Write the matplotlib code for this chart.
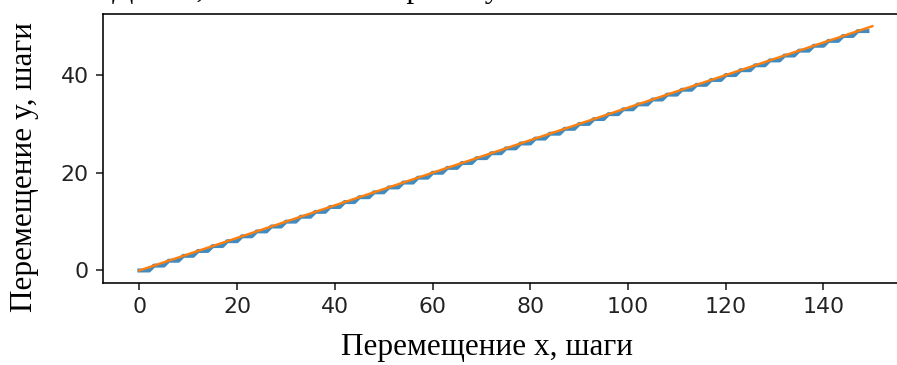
import matplotlib
matplotlib.use("Agg")
import matplotlib.pyplot as plt

# Discrete (stepwise) path, one point per x step
step_x = [
    0, 1, 2, 3, 4, 5, 6, 7, 8, 9, 10, 11, 12, 13, 14,
    15, 16, 17, 18, 19, 20, 21, 22, 23, 24, 25, 26, 27, 28, 29,
    30, 31, 32, 33, 34, 35, 36, 37, 38, 39, 40, 41, 42, 43, 44,
    45, 46, 47, 48, 49, 50, 51, 52, 53, 54, 55, 56, 57, 58, 59,
    60, 61, 62, 63, 64, 65, 66, 67, 68, 69, 70, 71, 72, 73, 74,
    75, 76, 77, 78, 79, 80, 81, 82, 83, 84, 85, 86, 87, 88, 89,
    90, 91, 92, 93, 94, 95, 96, 97, 98, 99, 100, 101, 102, 103, 104,
    105, 106, 107, 108, 109, 110, 111, 112, 113, 114, 115, 116, 117, 118, 119,
    120, 121, 122, 123, 124, 125, 126, 127, 128, 129, 130, 131, 132, 133, 134,
    135, 136, 137, 138, 139, 140, 141, 142, 143, 144, 145, 146, 147, 148, 149,
]
step_y = [
    0, 0, 0, 1, 1, 1, 2, 2, 2, 3, 3, 3, 4, 4, 4,
    5, 5, 5, 6, 6, 6, 7, 7, 7, 8, 8, 8, 9, 9, 9,
    10, 10, 10, 11, 11, 11, 12, 12, 12, 13, 13, 13, 14, 14, 14,
    15, 15, 15, 16, 16, 16, 17, 17, 17, 18, 18, 18, 19, 19, 19,
    20, 20, 20, 21, 21, 21, 22, 22, 22, 23, 23, 23, 24, 24, 24,
    25, 25, 25, 26, 26, 26, 27, 27, 27, 28, 28, 28, 29, 29, 29,
    30, 30, 30, 31, 31, 31, 32, 32, 32, 33, 33, 33, 34, 34, 34,
    35, 35, 35, 36, 36, 36, 37, 37, 37, 38, 38, 38, 39, 39, 39,
    40, 40, 40, 41, 41, 41, 42, 42, 42, 43, 43, 43, 44, 44, 44,
    45, 45, 45, 46, 46, 46, 47, 47, 47, 48, 48, 48, 49, 49, 49,
]

# Ideal straight line
line_x = [0, 150]
line_y = [0, 50]

xticks = [0, 20, 40, 60, 80, 100, 120, 140]
yticks = [0, 20, 40]

xlabel = "Перемещение x, шаги"
ylabel = "Перемещение y, шаги"
title = "Длина, все шаги на отрезке у"

W, H, DPI = 897, 365, 144
fig = plt.figure(figsize=(W / DPI, H / DPI), dpi=DPI)
ax = fig.add_axes([102.7 / W, 1 - 282.7 / H, (909 - 102.7) / W, (282.7 - 14) / H])

ax.plot(step_x, step_y, color="#1f77b4", lw=2.0, alpha=0.85)
ax.plot(line_x, line_y, color="#ff7f0e", lw=1.2)

ax.set_xticks(xticks)
ax.set_yticks(yticks)
ax.tick_params(labelsize=11, colors="#222222", labelcolor="#222222")

serif = ["Liberation Serif", "DejaVu Serif"]
fig.text(487 / W, 1 - 348 / H, xlabel, family=serif, fontsize=15.6,
         ha="center", va="center")
fig.text(25 / W, 1 - 167 / H, ylabel, family=serif, fontsize=15.6,
         ha="center", va="center", rotation=90)
fig.text(112 / W, 1 + 3 / H, title, family=serif, fontsize=15.6,
         ha="left", va="baseline")

fig.savefig("out.png", dpi=DPI)
